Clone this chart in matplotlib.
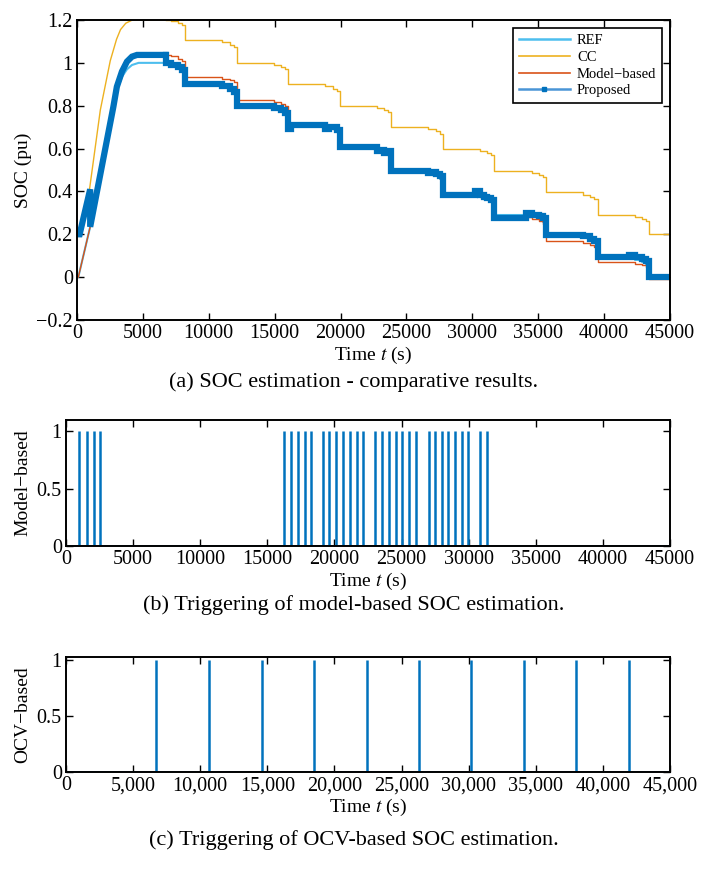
import matplotlib.pyplot as plt
from matplotlib.lines import Line2D
from matplotlib.ticker import FuncFormatter

# ---- data ----
# charging phase (plain polyline)
t_chg = [0, 100, 1000, 2760, 3026, 3413, 3793, 4172, 4675, 6720]
ref_chg = [0.0, 0.0, 0.235, 0.79, 0.87, 0.935, 0.97, 0.99, 1.0, 1.0]
mod_chg = [0.0, 0.0, 0.235, 0.795, 0.889, 0.96, 1.006, 1.029, 1.037, 1.037]

t_cc_chg = [0, 200, 950, 1770, 2525, 3000, 3300, 3700, 4200, 6720]
cc_chg = [0.2, 0.2, 0.41, 0.78, 1.01, 1.11, 1.155, 1.185, 1.2, 1.2]

t_prop_chg = [0, 200, 1000, 1000, 2760, 3026, 3413, 3793, 4172, 4551, 6720]
prop_chg = [0.2, 0.2, 0.41, 0.235, 0.795, 0.889, 0.96, 1.006, 1.029, 1.037, 1.037]

# discharge phase (step-post)
t_dis = [6720, 7120, 7670, 7970, 8220,
         10630, 11030, 11580, 11880, 12130,
         14540, 14940, 15490, 15790, 16040,
         18450, 18850, 19400, 19700, 19950,
         22360, 22760, 23310, 23610, 23860,
         26270, 26670, 27220, 27520, 27770,
         30180, 30580, 31130, 31430, 31680,
         34090, 34490, 35040, 35340, 35590,
         38000, 38400, 38950, 39250, 39500,
         41910, 42310, 42860, 43160, 43410,
         45000]
ref_dis = [1.0, 0.99, 0.98, 0.965, 0.90,
           0.90, 0.89, 0.88, 0.865, 0.80,
           0.80, 0.79, 0.78, 0.765, 0.71,
           0.71, 0.70, 0.69, 0.675, 0.605,
           0.605, 0.595, 0.585, 0.57, 0.495,
           0.495, 0.485, 0.475, 0.46, 0.392,
           0.392, 0.382, 0.372, 0.357, 0.29,
           0.29, 0.28, 0.27, 0.255, 0.197,
           0.197, 0.187, 0.177, 0.162, 0.092,
           0.092, 0.082, 0.072, 0.057, 0.0,
           0.0]
cc_dis = [1.2, 1.195, 1.185, 1.175, 1.105,
          1.105, 1.095, 1.085, 1.075, 1.0,
          1.0, 0.99, 0.98, 0.97, 0.9,
          0.9, 0.89, 0.88, 0.87, 0.8,
          0.8, 0.79, 0.78, 0.77, 0.7,
          0.7, 0.69, 0.68, 0.67, 0.6,
          0.6, 0.59, 0.58, 0.57, 0.495,
          0.495, 0.485, 0.475, 0.465, 0.395,
          0.395, 0.385, 0.375, 0.365, 0.29,
          0.29, 0.28, 0.27, 0.26, 0.2,
          0.2]
mod_dis = [1.037, 1.03, 1.02, 1.01, 0.935,
           0.935, 0.925, 0.918, 0.91, 0.827,
           0.827, 0.815, 0.806, 0.80, 0.71,
           0.71, 0.70, 0.69, 0.675, 0.605,
           0.605, 0.595, 0.585, 0.57, 0.495,
           0.495, 0.485, 0.475, 0.46, 0.385,
           0.385, 0.375, 0.365, 0.35, 0.28,
           0.28, 0.27, 0.26, 0.25, 0.17,
           0.17, 0.16, 0.15, 0.14, 0.07,
           0.07, 0.06, 0.055, 0.045, -0.008,
           -0.008]

t_prop_dis = [6720, 6720, 7120, 7670, 7970, 8220,
              10630, 11030, 11580, 11880, 12130,
              14540, 14940, 15490, 15790, 16040, 16220,
              18450, 18850, 19120, 19700, 19950,
              22360, 22760, 23050, 23310, 23570, 23860,
              26270, 26670, 27010, 27220, 27520, 27770,
              30180, 30580, 30850, 31130, 31430, 31680,
              34090, 34490, 35040, 35340, 35590,
              38000, 38400, 38950, 39250, 39500,
              41910, 42310, 42860, 43160, 43410,
              45000]
prop_dis = [1.037, 1.0, 0.99, 0.98, 0.965, 0.90,
            0.90, 0.89, 0.88, 0.865, 0.80,
            0.80, 0.79, 0.78, 0.765, 0.69, 0.71,
            0.71, 0.69, 0.70, 0.685, 0.605,
            0.605, 0.59, 0.595, 0.58, 0.59, 0.495,
            0.495, 0.485, 0.49, 0.48, 0.47, 0.383,
            0.40, 0.385, 0.375, 0.37, 0.36, 0.278,
            0.30, 0.29, 0.285, 0.275, 0.197,
            0.197, 0.19, 0.18, 0.17, 0.092,
            0.103, 0.092, 0.085, 0.075, 0.0,
            0.0]

# triggering instants (s)
model_trig = [950, 1550, 2050, 2550,
              16220, 16770, 17290, 17770, 18260,
              19120, 19630, 20150, 20670, 21160, 21650, 22130,
              23050, 23570, 24060, 24570, 25060, 25550, 26070,
              27010, 27500, 27990, 28480, 28990, 29480, 29970,
              30850, 31370]
ocv_trig = [6720, 10660, 14570, 18480, 22390, 26300, 30180, 34090, 38000, 41910]
t_span = [0, 45000]

x_ticks = [0, 5000, 10000, 15000, 20000, 25000, 30000, 35000, 40000, 45000]
soc_ticks = [-0.2, 0, 0.2, 0.4, 0.6, 0.8, 1, 1.2]
soc_tick_labels = ['\u22120.2', '0', '0.2', '0.4', '0.6', '0.8', '1', '1.2']
trig_ticks = [0, 0.5, 1]
trig_tick_labels = ['0', '0.5', '1']

c_ref = '#4DBEEE'
c_cc = '#EDB120'
c_mod = '#D95319'
c_prop = '#0072BD'

plt.rcParams['font.family'] = ['Liberation Serif', 'DejaVu Serif']
plt.rcParams['mathtext.fontset'] = 'stix'
plt.rcParams['font.size'] = 14

TICK_FS = 14.5
LABEL_FS = 14
CAP_FS = 16


def style(ax):
    ax.tick_params(direction='in', top=True, right=True, length=5, width=1,
                   labelsize=TICK_FS, pad=3)
    for s in ax.spines.values():
        s.set_linewidth(1.4)


fig = plt.figure(figsize=(7.08, 8.69), dpi=100)
W, H = 708.0, 869.0

# ---- (a) SOC estimation ----
ax1 = fig.add_axes([77 / W, 1 - 320 / H, 593 / W, 300 / H])
ax1.plot(t_chg, ref_chg, color=c_ref, lw=1.5)
ax1.plot(t_dis, ref_dis, color=c_ref, lw=1.5, drawstyle='steps-post')
ax1.plot(t_cc_chg, cc_chg, color=c_cc, lw=1.0)
ax1.plot(t_dis, cc_dis, color=c_cc, lw=1.0, drawstyle='steps-post')
ax1.plot(t_chg, mod_chg, color=c_mod, lw=1.0)
ax1.plot(t_dis, mod_dis, color=c_mod, lw=1.0, drawstyle='steps-post')
ax1.plot(t_prop_chg, prop_chg, color=c_prop, lw=4.5, solid_joinstyle='miter')
ax1.plot(t_prop_dis, prop_dis, color=c_prop, lw=4.5, drawstyle='steps-post',
         solid_joinstyle='miter')
ax1.set_xlim(0, 45000)
ax1.set_ylim(-0.2, 1.2)
ax1.set_xticks(x_ticks)
ax1.set_yticks(soc_ticks)
ax1.set_yticklabels(soc_tick_labels)
ax1.set_xlabel('Time $t$ (s)', fontsize=LABEL_FS, labelpad=1)
ax1.set_ylabel('SOC (pu)', fontsize=LABEL_FS, labelpad=3)
style(ax1)

handles = [Line2D([], [], color=c_ref, lw=1.8),
           Line2D([], [], color=c_cc, lw=1.2),
           Line2D([], [], color=c_mod, lw=1.2),
           Line2D([], [], color='#4a95d6', lw=1.8, marker='s', ms=3,
                  markerfacecolor=c_prop, markeredgecolor=c_prop)]
leg = ax1.legend(handles, ['REF', 'CC', 'Model\u2212based', 'Proposed'],
                 loc='upper right', bbox_to_anchor=(0.999, 0.998), fontsize=10.5,
                 fancybox=False, edgecolor='black', framealpha=1,
                 handlelength=3.5, handletextpad=0.5, labelspacing=0.25,
                 borderpad=0.4)
leg.get_frame().set_linewidth(1.2)

fig.text(354 / W, 1 - 382 / H, '(a) SOC estimation - comparative results.',
         ha='center', va='center', fontsize=CAP_FS)

# ---- (b) model-based triggering ----
ax2 = fig.add_axes([66 / W, 1 - 546 / H, 604 / W, 126 / H])
ax2.plot(t_span, [0, 0], color=c_prop, lw=2)
ax2.vlines(model_trig, 0, 1, color=c_prop, lw=1.8)
ax2.set_xlim(0, 45000)
ax2.set_ylim(0, 1.1)
ax2.set_xticks(x_ticks)
ax2.set_yticks(trig_ticks)
ax2.set_yticklabels(trig_tick_labels)
ax2.set_xlabel('Time $t$ (s)', fontsize=LABEL_FS, labelpad=1)
ax2.set_ylabel('Model\u2212based', fontsize=LABEL_FS, labelpad=4)
style(ax2)

fig.text(354 / W, 1 - 605 / H, '(b) Triggering of model-based SOC estimation.',
         ha='center', va='center', fontsize=CAP_FS)

# ---- (c) OCV-based triggering ----
ax3 = fig.add_axes([66 / W, 1 - 772 / H, 604 / W, 115 / H])
ax3.plot(t_span, [0, 0], color=c_prop, lw=2)
ax3.vlines(ocv_trig, 0, 1, color=c_prop, lw=1.8)
ax3.set_xlim(0, 45000)
ax3.set_ylim(0, 1.03)
ax3.set_xticks(x_ticks)
ax3.xaxis.set_major_formatter(FuncFormatter(lambda v, p: '{:,}'.format(int(v))))
ax3.set_yticks(trig_ticks)
ax3.set_yticklabels(trig_tick_labels)
ax3.set_xlabel('Time $t$ (s)', fontsize=LABEL_FS, labelpad=1)
ax3.set_ylabel('OCV\u2212based', fontsize=LABEL_FS, labelpad=4)
style(ax3)

fig.text(354 / W, 1 - 840 / H, '(c) Triggering of OCV-based SOC estimation.',
         ha='center', va='center', fontsize=CAP_FS)

fig.savefig('out.png', dpi=100)
